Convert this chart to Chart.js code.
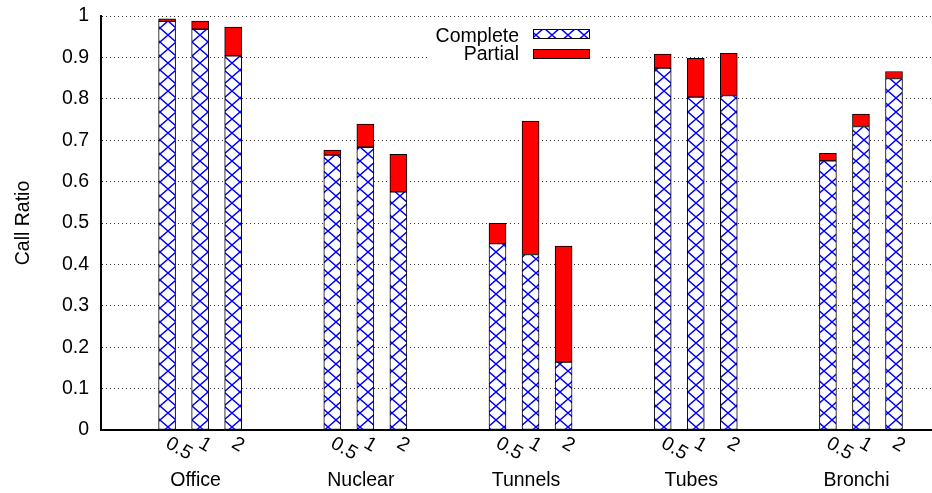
<!DOCTYPE html>
<html>
<head>
<meta charset="utf-8">
<script src="https://cdn.jsdelivr.net/npm/chart.js@4/dist/chart.umd.min.js"></script>
<style>
  html, body { margin: 0; padding: 0; background: #fff; }
  #wrap { width: 932px; height: 493px; }
</style>
</head>
<body>
<div id="wrap"><canvas id="chart" width="932" height="493"></canvas></div>
<script>
// Environments, call rates and the two stacked series (one row per environment, one column per rate)
const environments = ['Office', 'Nuclear', 'Tunnels', 'Tubes', 'Bronchi'];
const rates = ['0.5', '1', '2'];
const completeRatio = [
  [0.987, 0.968, 0.904],
  [0.664, 0.683, 0.575],
  [0.450, 0.424, 0.164],
  [0.874, 0.804, 0.808],
  [0.650, 0.733, 0.849]
];
const partialRatio = [
  [0.006, 0.020, 0.069],
  [0.012, 0.056, 0.091],
  [0.049, 0.322, 0.280],
  [0.034, 0.094, 0.102],
  [0.018, 0.030, 0.017]
];
const yTicks = [0, 0.1, 0.2, 0.3, 0.4, 0.5, 0.6, 0.7, 0.8, 0.9, 1];

const FONT = 'Liberation Sans, Arial, Helvetica, sans-serif';
const FONT_SIZE = 19.5;

// Each environment occupies five slots: two empty, then one bar per rate
const slotX = (g, r) => g * 5 + r + 2;
const toPoints = series => series.flatMap((row, g) => row.map((v, r) => ({ x: slotX(g, r), y: v })));

// Blue diagonal cross-hatch fill
function makeHatch(ctx) {
  const c = document.createElement('canvas');
  c.width = 16; c.height = 14;
  const g = c.getContext('2d');
  g.fillStyle = '#ffffff';
  g.fillRect(0, 0, c.width, c.height);
  g.strokeStyle = '#0000ff';
  g.lineWidth = 1.4;
  g.beginPath();
  g.moveTo(0, 0); g.lineTo(c.width, c.height);
  g.moveTo(c.width, 0); g.lineTo(0, c.height);
  g.stroke();
  return ctx.createPattern(c, 'repeat');
}

const canvas = document.getElementById('chart');
const ctx = canvas.getContext('2d');
const hatch = makeHatch(ctx);

// Rotated rate labels, environment names and the key box
const annotations = {
  id: 'annotations',
  afterDraw(chart) {
    const { ctx, scales: { x }, chartArea } = chart;
    ctx.save();
    ctx.fillStyle = '#000';
    ctx.font = FONT_SIZE + 'px ' + FONT;

    environments.forEach((name, g) => {
      rates.forEach((rate, r) => {
        const px = x.getPixelForValue(slotX(g, r));
        ctx.save();
        ctx.translate(px, chartArea.bottom + 12);
        ctx.rotate(30 * Math.PI / 180);
        ctx.textAlign = 'left';
        ctx.textBaseline = 'middle';
        ctx.fillText(rate, 0, 0);
        ctx.restore();
      });
      const cx = x.getPixelForValue(slotX(g, 1)) - 4.5;
      ctx.textAlign = 'center';
      ctx.textBaseline = 'alphabetic';
      ctx.fillText(name, cx, chartArea.bottom + 56);
    });

    // key
    const keyLeft = 428, keyTop = chartArea.top + 5;
    ctx.fillStyle = '#fff';
    ctx.fillRect(keyLeft, keyTop, 172, 42);
    const items = [
      { label: chart.data.datasets[0].label, fill: hatch, y: chartArea.top + 13, base: chartArea.top + 25.7 },
      { label: chart.data.datasets[1].label, fill: '#ff0000', y: chartArea.top + 33, base: chartArea.top + 44 }
    ];
    items.forEach(it => {
      ctx.fillStyle = '#000';
      ctx.textAlign = 'right';
      ctx.textBaseline = 'alphabetic';
      ctx.fillText(it.label, 519, it.base);
      ctx.fillStyle = it.fill;
      ctx.fillRect(533, it.y, 57, 9.5);
      ctx.strokeStyle = '#000';
      ctx.lineWidth = 1;
      ctx.strokeRect(533.5, it.y + 0.5, 56, 9);
    });
    ctx.restore();
  }
};

new Chart(ctx, {
  type: 'bar',
  data: {
    datasets: [
      {
        label: 'Complete',
        data: toPoints(completeRatio),
        backgroundColor: hatch,
        borderColor: '#000',
        borderWidth: 1,
        borderSkipped: false,
        barThickness: 17
      },
      {
        label: 'Partial',
        data: toPoints(partialRatio),
        backgroundColor: '#ff0000',
        borderColor: '#000',
        borderWidth: 1,
        borderSkipped: false,
        barThickness: 17
      }
    ]
  },
  options: {
    responsive: false,
    animation: false,
    devicePixelRatio: 1,
    layout: { padding: { left: 0, right: 0, top: 16, bottom: 0 } },
    plugins: { legend: { display: false }, tooltip: { enabled: false } },
    scales: {
      x: {
        type: 'linear',
        min: 0,
        max: 25.15,
        offset: false,
        stacked: true,
        grid: { display: false },
        ticks: { display: false },
        border: { display: true, color: '#000', width: 2 },
        afterFit(scale) { scale.height = 63; }
      },
      y: {
        min: 0,
        max: 1,
        stacked: true,
        afterBuildTicks(scale) { scale.ticks = yTicks.map(v => ({ value: v })); },
        ticks: {
          color: '#000',
          padding: 12,
          font: { family: FONT, size: FONT_SIZE },
          callback: v => String(+v.toFixed(1))
        },
        grid: { color: '#333', lineWidth: 1, drawTicks: false },
        border: { display: true, color: '#000', width: 2, dash: [1, 3] },
        title: {
          display: true,
          text: 'Call Ratio',
          color: '#000',
          font: { family: FONT, size: FONT_SIZE },
          padding: { top: 12, bottom: 0 }
        },
        afterFit(scale) {
          scale.width = 101;
          scale.paddingTop = 0;
          scale.paddingBottom = 0;
        }
      }
    }
  },
  plugins: [annotations]
});
</script>
</body>
</html>
